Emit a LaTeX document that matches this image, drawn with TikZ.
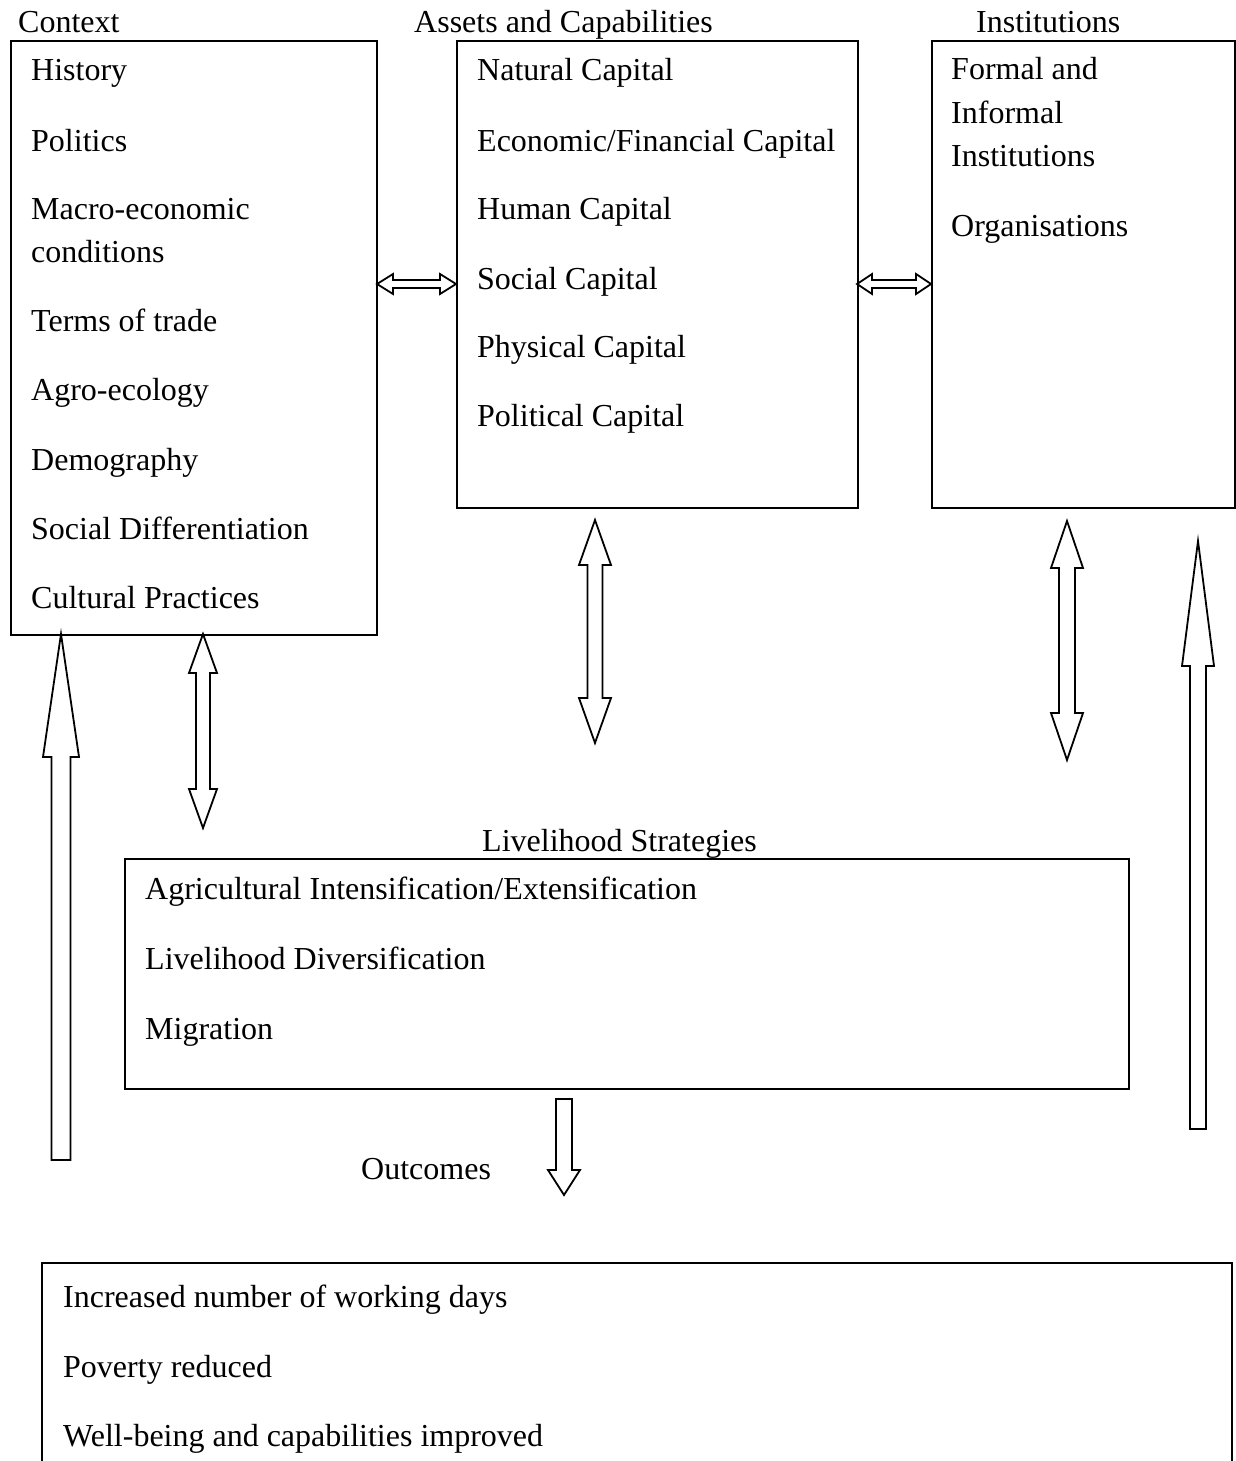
\documentclass[tikz,border=0pt]{standalone}
\usepackage{fontspec}
\setmainfont{Liberation Serif}
\usetikzlibrary{positioning}

\tikzset{
  box/.style={draw, line width=1.8pt, anchor=north west, inner sep=0pt},
  item/.style={anchor=base west, inner sep=0pt, align=left, font=\fontsize{32}{43}\selectfont},
  title/.style={anchor=base west, inner sep=0pt, font=\fontsize{32}{43}\selectfont},
  blk/.style={draw, line width=1.8pt, fill=white, line join=miter},
}

% double block arrow, vertical: x, top, bottom, shaft half, head half, head length
\newcommand{\vdouble}[6]{%
  \draw[blk] (#1,#2) -- (#1+#5,#2+#6) -- (#1+#4,#2+#6) -- (#1+#4,#3-#6) -- (#1+#5,#3-#6)
    -- (#1,#3) -- (#1-#5,#3-#6) -- (#1-#4,#3-#6) -- (#1-#4,#2+#6) -- (#1-#5,#2+#6) -- cycle;}
% double block arrow, horizontal: y, left, right, shaft half, head half, head length
\newcommand{\hdouble}[6]{%
  \draw[blk] (#2,#1) -- (#2+#6,#1-#5) -- (#2+#6,#1-#4) -- (#3-#6,#1-#4) -- (#3-#6,#1-#5)
    -- (#3,#1) -- (#3-#6,#1+#5) -- (#3-#6,#1+#4) -- (#2+#6,#1+#4) -- (#2+#6,#1+#5) -- cycle;}
% single block arrow pointing up: x, tip, bottom, shaft half, head half, head length
\newcommand{\vup}[6]{%
  \draw[blk] (#1,#2) -- (#1+#5,#2+#6) -- (#1+#4,#2+#6) -- (#1+#4,#3) -- (#1-#4,#3)
    -- (#1-#4,#2+#6) -- (#1-#5,#2+#6) -- cycle;}
% single block arrow pointing down: x, top, tip, shaft half, head half, head length
\newcommand{\vdown}[6]{%
  \draw[blk] (#1,#3) -- (#1+#5,#3-#6) -- (#1+#4,#3-#6) -- (#1+#4,#2) -- (#1-#4,#2)
    -- (#1-#4,#3-#6) -- (#1-#5,#3-#6) -- cycle;}

\begin{document}
\begin{tikzpicture}[x=1pt, y=-1pt]
  \useasboundingbox (0,0) rectangle (1235,1461);

  % boxes
  \node[box, minimum width=366pt, minimum height=594pt] (context) at (10,40) {};
  \node[box, minimum width=401pt, minimum height=467pt] (assets) at (456,40) {};
  \node[box, minimum width=303pt, minimum height=467pt] (inst) at (931,40) {};
  \node[box, minimum width=1004pt, minimum height=230pt] (strat) at (124,858) {};
  \draw[line width=1.8pt] (42,1480) -- (42,1263) -- (1232,1263) -- (1232,1480);

  % titles
  \node[title] (tcontext) at (18,33) {Context};
  \node[title] (tassets) at (414,33) {Assets and Capabilities};
  \node[title] (tinst) at (976,33) {Institutions};
  \node[title] (tstrat) at (482,851) {Livelihood Strategies};
  \node[title] (toutcomes) at (361,1179) {Outcomes};

  % context (multi-line items sit on their last baseline)
  \node[item] (history) at (31,81) {History};
  \node[item] (politics) at (31,151) {Politics};
  \node[item] (macro) at (31,262) {Macro-economic\\conditions};
  \node[item] (terms) at (31,331) {Terms of trade};
  \node[item] (agro) at (31,400) {Agro-ecology};
  \node[item] (demo) at (31,470) {Demography};
  \node[item] (socdiff) at (31,539) {Social Differentiation};
  \node[item] (culture) at (31,608) {Cultural Practices};

  % assets
  \node[item] (natural) at (477,81) {Natural Capital};
  \node[item] (economic) at (477,151) {Economic/Financial Capital};
  \node[item] (human) at (477,219) {Human Capital};
  \node[item] (social) at (477,289) {Social Capital};
  \node[item] (physical) at (477,357) {Physical Capital};
  \node[item] (political) at (477,426) {Political Capital};

  % institutions
  \node[item] (formal) at (951,166) {Formal and\\Informal\\Institutions};
  \node[item] (orgs) at (951,236) {Organisations};

  % strategies
  \node[item] (agri) at (145,899) {Agricultural Intensification/Extensification};
  \node[item] (divers) at (145,969) {Livelihood Diversification};
  \node[item] (migr) at (145,1039) {Migration};

  % outcomes
  \node[item] (days) at (63,1307) {Increased number of working days};
  \node[item] (poverty) at (63,1377) {Poverty reduced};
  \node[item] (wellbeing) at (63,1446) {Well-being and capabilities improved};

  % block arrows
  \hdouble{284}{377}{456}{4}{10}{16}
  \hdouble{284}{857}{931}{4}{10}{15}
  \vdouble{203}{634}{828}{7}{14}{39}
  \vdouble{595}{520}{743}{7.5}{16}{45}
  \vdouble{1067}{521}{760}{8}{16}{47}
  \vup{61}{634}{1160}{9.5}{18}{123}
  \vup{1198}{541}{1129}{8}{16}{125}
  \vdown{564}{1099}{1195}{8}{16}{25}
\end{tikzpicture}
\end{document}
